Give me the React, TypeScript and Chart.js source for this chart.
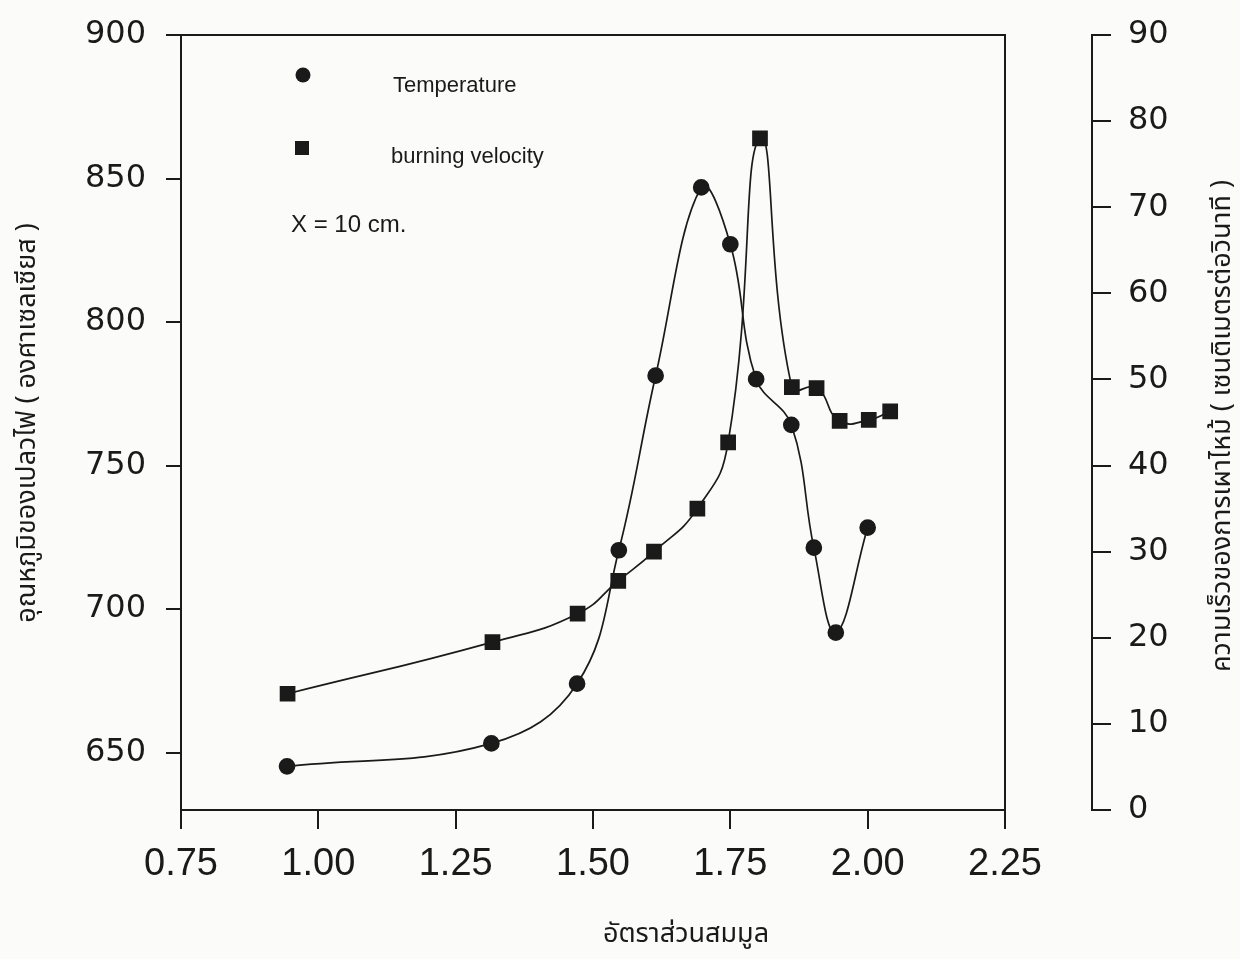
import React, { useEffect, useRef } from "react";
import { Chart, registerables } from "chart.js";

Chart.register(...registerables);

// ---- data ----
const tempX = [0.943, 1.315, 1.471, 1.547, 1.614, 1.697, 1.75, 1.797, 1.861, 1.902, 1.942, 2.0];
const tempY = [645.2, 653.2, 674.0, 720.5, 781.3, 846.9, 827.1, 780.1, 764.2, 721.4, 691.8, 728.4];

const velX = [0.944, 1.317, 1.472, 1.546, 1.611, 1.69, 1.746, 1.804, 1.862, 1.907, 1.949, 2.002, 2.041];
const velY = [13.5, 19.5, 22.8, 26.6, 30.0, 35.0, 42.7, 78.0, 49.1, 49.0, 45.2, 45.3, 46.3];

const xTickValues = [0.75, 1.0, 1.25, 1.5, 1.75, 2.0, 2.25];
const tempTickValues = [650, 700, 750, 800, 850, 900];
const velTickValues = [0, 10, 20, 30, 40, 50, 60, 70, 80, 90];

const xRange = [0.75, 2.25];
const tempRange = [630, 900];
const velRange = [0, 90];

const seriesNames = ["Temperature", "burning velocity"];
const noteText = "X = 10 cm.";
const xTitle = "อัตราส่วนสมมูล";
const leftTitle = "อุณหภูมิของเปลวไฟ ( องศาเซลเซียส )";
const rightTitle = "ความเร็วของการเผาไหม้ ( เซนติเมตรต่อวินาที )";

const INK = "#1a1a1a";
const THAI_FONT = "'Noto Sans Thai', 'Noto Sans Thai UI', Tahoma, 'Noto Sans', sans-serif";

const decorPlugin = {
  id: "decor",
  beforeDraw(chart: any) {
    const { ctx, width, height } = chart;
    ctx.save();
    ctx.fillStyle = "#fbfbf9";
    ctx.fillRect(0, 0, width, height);
    ctx.restore();
  },
  afterDraw(chart: any) {
    const { ctx } = chart;
    const { left, top, right, bottom } = chart.chartArea;
    ctx.save();
    // top and right frame lines
    ctx.strokeStyle = INK;
    ctx.lineWidth = 2;
    ctx.beginPath();
    ctx.moveTo(left, top);
    ctx.lineTo(right, top);
    ctx.lineTo(right, bottom);
    ctx.stroke();

    // legend
    ctx.fillStyle = INK;
    ctx.beginPath();
    ctx.arc(left + 122, top + 40, 7.5, 0, Math.PI * 2);
    ctx.fill();
    ctx.fillRect(left + 121 - 7, top + 113 - 7, 14, 14);

    ctx.font = "22px 'Liberation Sans', Arial, sans-serif";
    ctx.textAlign = "left";
    ctx.textBaseline = "alphabetic";
    ctx.fillText(seriesNames[0], left + 212, top + 57);
    ctx.fillText(seriesNames[1], left + 210, top + 128);
    ctx.font = "24px 'Liberation Sans', Arial, sans-serif";
    ctx.fillText(noteText, left + 110, top + 197);

    // axis titles
    ctx.textAlign = "center";
    ctx.textBaseline = "middle";
    ctx.font = `27px ${THAI_FONT}`;
    ctx.fillText(xTitle, 686, 937);

    ctx.save();
    ctx.translate(30, 423);
    ctx.rotate(-Math.PI / 2);
    ctx.fillText(leftTitle, 0, 0);
    ctx.restore();

    ctx.save();
    ctx.translate(1225, 426);
    ctx.rotate(-Math.PI / 2);
    ctx.fillText(rightTitle, 0, 0);
    ctx.restore();

    ctx.restore();
  },
};

const axisGrid = (len: number) => ({
  display: true,
  drawOnChartArea: false,
  drawTicks: true,
  tickLength: len,
  color: INK,
  lineWidth: 2,
});

export default function App() {
  const canvasRef = useRef<HTMLCanvasElement | null>(null);

  useEffect(() => {
    const canvas = canvasRef.current;
    if (!canvas) return;
    const chart = new Chart(canvas, {
      type: "line",
      data: {
        datasets: [
          {
            label: seriesNames[0],
            data: tempX.map((x, i) => ({ x, y: tempY[i] })),
            yAxisID: "y",
            borderColor: INK,
            backgroundColor: INK,
            borderWidth: 1.7,
            pointStyle: "circle",
            pointRadius: 7.5,
            pointBackgroundColor: INK,
            pointBorderColor: INK,
            tension: 0.4,
            fill: false,
          },
          {
            label: seriesNames[1],
            data: velX.map((x, i) => ({ x, y: velY[i] })),
            yAxisID: "y2",
            borderColor: INK,
            backgroundColor: INK,
            borderWidth: 1.7,
            pointStyle: "rect",
            pointRadius: 9.9,
            pointBackgroundColor: INK,
            pointBorderColor: INK,
            tension: 0.5,
            fill: false,
          },
        ],
      },
      options: {
        responsive: false,
        animation: false,
        devicePixelRatio: 1,
        layout: { padding: { top: 35, left: 0, right: 0, bottom: 0 } },
        plugins: {
          legend: { display: false },
          tooltip: { enabled: false },
          title: { display: false },
        },
        scales: {
          x: {
            type: "linear",
            position: "bottom",
            min: xRange[0],
            max: xRange[1],
            afterBuildTicks: (s: any) => {
              s.ticks = xTickValues.map((v) => ({ value: v }));
            },
            afterFit: (s: any) => {
              s.height = 149;
            },
            grid: axisGrid(19),
            border: { display: true, color: INK, width: 2 },
            ticks: {
              autoSkip: false,
              maxRotation: 0,
              minRotation: 0,
              padding: 13,
              color: INK,
              font: { family: "'Liberation Sans', Arial, sans-serif", size: 38 },
              callback: (v: any) => Number(v).toFixed(2),
            },
          },
          y: {
            type: "linear",
            position: "left",
            min: tempRange[0],
            max: tempRange[1],
            afterBuildTicks: (s: any) => {
              s.ticks = tempTickValues.map((v) => ({ value: v }));
            },
            afterFit: (s: any) => {
              s.width = 181;
              s.paddingTop = 0;
              s.paddingBottom = 0;
            },
            grid: axisGrid(15),
            border: { display: true, color: INK, width: 2 },
            ticks: {
              autoSkip: false,
              padding: 20,
              color: INK,
              font: { family: "'DejaVu Sans', sans-serif", size: 32 },
            },
          },
          spacer: {
            type: "linear",
            position: "right",
            weight: 0,
            display: true,
            afterFit: (s: any) => {
              s.width = 87;
              s.paddingTop = 0;
              s.paddingBottom = 0;
            },
            grid: { display: false },
            border: { display: false },
            ticks: { display: false },
          },
          y2: {
            type: "linear",
            position: "right",
            weight: 1,
            min: velRange[0],
            max: velRange[1],
            afterBuildTicks: (s: any) => {
              s.ticks = velTickValues.map((v) => ({ value: v }));
            },
            afterFit: (s: any) => {
              s.width = 148;
              s.paddingTop = 0;
              s.paddingBottom = 0;
            },
            grid: axisGrid(19),
            border: { display: true, color: INK, width: 2 },
            ticks: {
              autoSkip: false,
              padding: 17,
              color: INK,
              font: { family: "'DejaVu Sans', sans-serif", size: 32 },
            },
          },
        },
      },
      plugins: [decorPlugin],
    } as any);
    return () => chart.destroy();
  }, []);

  return (
    <div style={{ position: "fixed", left: 0, top: 0, width: 1240, height: 959, background: "#fbfbf9" }}>
      <canvas ref={canvasRef} width={1240} height={959} style={{ width: 1240, height: 959, display: "block" }} />
    </div>
  );
}
